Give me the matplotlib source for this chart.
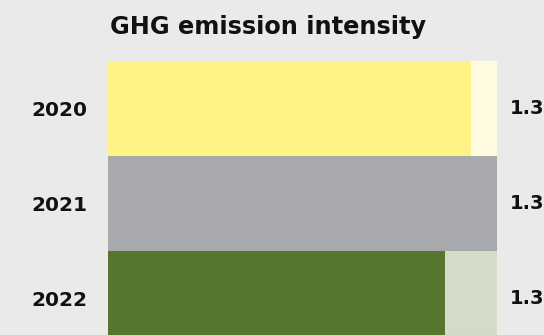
import matplotlib
matplotlib.use("Agg")
import matplotlib.pyplot as plt

BG = "#eaeaea"

years = ["2020", "2021", "2022"]
values = [1.33, 1.34, 1.32]
value_labels = ["1.33", "1.34", "1.32"]
axis_min = 1.19

FILL = ["#fff385", "#a8a9ac", "#56752e"]
TRACK = ["#fffae0", "#a8a9ac", "#d3dcc6"]

fig = plt.figure(figsize=(5.44, 3.35), dpi=100, facecolor=BG)
ax = fig.add_axes([0.1985, -0.033, 0.715, 0.851])
ax.set_facecolor(BG)

top = max(values)
ax.barh(years, [top - axis_min] * len(years), left=axis_min, height=1.0,
        color=TRACK, linewidth=0)
ax.barh(years, [v - axis_min for v in values], left=axis_min, height=1.0,
        color=FILL, linewidth=0)

ax.set_xlim(axis_min, top)
ax.set_ylim(2.5, -0.5)
ax.set_xticks([])
ax.tick_params(axis="y", length=0, pad=15, labelsize=14.5, labelcolor="#111111")
for lab in ax.get_yticklabels():
    lab.set_fontweight("bold")
for s in ax.spines.values():
    s.set_visible(False)

# value labels sit just past the track, running off the right edge
for i, txt in enumerate(value_labels):
    ax.annotate(txt, xy=(1.0, i), xycoords=("axes fraction", "data"),
                xytext=(13, 0), textcoords="offset pixels",
                ha="left", va="center", fontsize=14, fontweight="bold",
                color="#111111", annotation_clip=False)

fig.text(110 / 544, 1 - 27 / 335, "GHG emission intensity", ha="left",
         va="center", fontsize=17.3, fontweight="bold", color="#111111",
         family="DejaVu Sans")

fig.savefig("out.png", dpi=100, facecolor=BG)
